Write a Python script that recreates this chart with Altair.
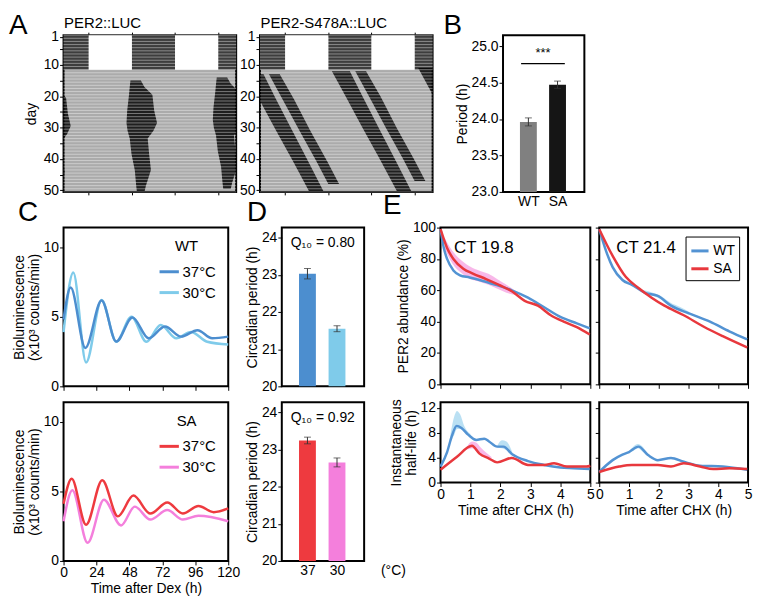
import altair as alt
import pandas as pd

FONT = "Liberation Sans"

# ---------------- A: actograms (double plotted, 48 h per row) ----------------
ld_end_day = 11.5
light_on = [7, 31]
light_off = [19, 43]
dark_on = [0, 19, 43]
dark_off = [7, 31, 48]
act_xticks = [7, 19, 31, 43]
act_yticks = [1, 5, 10, 15, 20, 25, 30, 35, 40, 45, 50]
row_edges = [d + 0.5 for d in range(0, 51)]

# activity bands in DD: day, onset hour, offset hour (continuous time of day)
wt_day = [15, 17, 19.5, 24.5, 28.5, 31, 33.5, 38.5, 43.5, 48.5, 50.5]
wt_on = [18.6, 18.4, 18.2, 17.7, 17.5, 17.8, 18.4, 18.9, 19.8, 20.2, 20.4]
wt_off = [21.5, 22.5, 24.7, 25.2, 26.0, 25.0, 23.4, 23.8, 24.3, 22.9, 22.5]

sa_a_day = [12, 20, 30, 40, 50.5]
sa_a_on = [20.0, 23.8, 28.5, 33.3, 38.2]
sa_a_off = [25.0, 28.5, 33.0, 37.5, 42.2]
sa_b_day = [12, 20, 30, 40, 47]
sa_b_on = [26.5, 30.3, 35.0, 39.8, 43.0]
sa_b_off = [29.5, 33.5, 38.0, 42.8, 46.0]

# ---------------- B ----------------
b_labels = ["WT", "SA"]
b_period = [23.96, 24.47]
b_err = [0.055, 0.05]
b_colors = ["#808080", "#151515"]
b_yticks = [23.0, 23.5, 24.0, 24.5, 25.0]
sig_x1, sig_x2, sig_y, sig_text_y = [0.75], [2.25], [24.76], [24.9]

# ---------------- C ----------------
wt37_t = [0, 5.2, 15.9, 27.7, 38.4, 50.2, 62, 73.9, 85.7, 97.6, 108.3, 120]
wt37_y = [4.8, 7.1, 2.76, 6.16, 3.22, 4.94, 3.45, 4.3, 3.57, 4.03, 3.45, 3.57]
wt30_t = [0, 7.1, 16.4, 27.7, 38.4, 49.5, 60.4, 70.8, 82.2, 92.9, 104.7, 120]
wt30_y = [3.9, 8.17, 1.72, 6.2, 3.2, 5.0, 3.2, 4.4, 3.45, 3.9, 3.2, 3.0]
sa37_t = [0, 5.9, 16.4, 28.2, 39.6, 50.9, 63.2, 75.6, 86.9, 98.3, 109.4, 120]
sa37_y = [4.1, 5.9, 2.6, 5.8, 3.2, 4.7, 3.4, 4.2, 3.4, 3.95, 3.5, 3.77]
sa30_t = [0, 6.4, 17.5, 29.4, 41.9, 51.9, 63.2, 75.6, 86.9, 98.3, 120]
sa30_y = [2.85, 5.07, 1.3, 4.4, 2.55, 3.9, 2.97, 3.65, 2.97, 3.24, 2.85]
c_xticks = [0, 24, 48, 72, 96, 120]

# ---------------- D ----------------
d_labels = ["37", "30"]
d_wt = [23.03, 21.55]
d_wt_err = [0.14, 0.08]
d_sa = [23.24, 22.65]
d_sa_err = [0.09, 0.12]
q10 = ["0.80", "0.92"]

# ---------------- E ----------------
e1_wt_t = [0, 0.11, 0.22, 0.43, 0.65, 0.97, 1.3, 1.84, 2.38, 2.92, 3.46, 4.0, 4.55, 4.98]
e1_wt_y = [99, 87, 80, 72.7, 69.6, 68.2, 66.6, 63.5, 60, 55.3, 49.2, 43, 38.9, 35.8]
e1_sa_t = [0, 0.22, 0.43, 0.76, 1.08, 1.52, 1.95, 2.38, 2.81, 3.25, 3.68, 4.11, 4.55, 4.98]
e1_sa_y = [99, 87, 80, 73.8, 70.7, 67.2, 63.5, 59.4, 53.3, 50.2, 44.1, 40, 36.5, 31.8]
e2_wt_t = [0, 0.23, 0.45, 0.78, 1.1, 1.54, 1.97, 2.41, 3.06, 3.72, 4.37, 4.97]
e2_wt_y = [99, 85, 74.8, 66.6, 63.5, 58.4, 56.4, 50.2, 45, 40, 33.8, 28.7]
e2_sa_t = [0, 0.45, 0.89, 1.32, 1.76, 2.19, 2.84, 3.5, 4.15, 4.97]
e2_sa_y = [99, 82, 68.6, 61.5, 55.3, 50.2, 44.1, 36.9, 30.7, 23.5]
e3_wt_t = [0, 0.22, 0.38, 0.54, 0.7, 0.92, 1.19, 1.46, 1.62, 1.89, 2.1, 2.38, 2.92, 3.46, 4.0, 4.44, 4.98]
e3_wt_y = [2.57, 4.9, 7.5, 9.1, 8.75, 7.7, 6.85, 7.05, 6.6, 5.77, 5.77, 4.6, 3.45, 2.83, 2.42, 2.3, 2.16]
e3_sa_t = [0, 0.54, 1.05, 1.3, 1.62, 1.89, 2.38, 2.92, 3.46, 3.79, 4.22, 4.87, 5.0]
e3_sa_y = [2.05, 4.1, 5.9, 4.64, 3.86, 3.24, 3.96, 2.83, 2.83, 3.09, 2.57, 2.57, 2.7]
e4_wt_t = [0, 0.45, 0.78, 1.0, 1.32, 1.65, 1.97, 2.41, 2.84, 3.39, 4.15, 4.97]
e4_wt_y = [1.7, 3.6, 4.48, 4.9, 5.77, 4.37, 3.6, 3.96, 3.34, 2.72, 2.57, 2.05]
e4_sa_t = [0, 0.67, 1.1, 1.97, 2.41, 2.84, 3.39, 3.83, 4.37, 4.97]
e4_sa_y = [1.7, 2.57, 2.83, 2.83, 2.57, 3.09, 2.57, 2.16, 2.3, 2.16]

e1_sa_band_t = [0.15, 0.4, 0.7, 1.0, 1.3, 1.6, 1.9, 2.2, 2.5]
e1_sa_band_lo = [86, 77, 71, 67, 65.5, 63.5, 61, 58.5, 57]
e1_sa_band_hi = [93, 85, 79, 75, 72.5, 70.5, 67, 63.5, 59.5]
e2_wt_band_t = [1.5, 1.8, 2.1, 2.4, 2.7, 3.0]
e2_wt_band_lo = [57.6, 56.5, 54.0, 49.8, 47.5, 44.3]
e2_wt_band_hi = [60.0, 58.5, 56.0, 52.0, 49.5, 46.5]
e3_wt_band_t = [0.3, 0.45, 0.55, 0.65, 0.8, 1.0]
e3_wt_band_lo = [6.2, 7.6, 8.6, 8.6, 8.2, 7.4]
e3_wt_band_hi = [6.8, 10.5, 11.5, 11.0, 9.0, 7.8]
e3_wt_band2_t = [1.9, 2.05, 2.2, 2.4]
e3_wt_band2_lo = [5.6, 5.5, 5.2, 4.5]
e3_wt_band2_hi = [6.0, 6.8, 6.6, 4.8]
e3_sa_band_t = [0.9, 1.05, 1.2, 1.35, 1.5, 1.7]
e3_sa_band_lo = [5.3, 5.5, 5.0, 4.5, 4.1, 3.7]
e3_sa_band_hi = [5.9, 6.6, 6.4, 5.6, 4.9, 4.1]
e4_wt_band_t = [1.0, 1.15, 1.3, 1.45, 1.6]
e4_wt_band_lo = [4.8, 5.1, 5.5, 5.0, 4.4]
e4_wt_band_hi = [5.0, 5.8, 6.2, 5.8, 4.7]

BLUE, LBLUE, RED, PINK = "#4c8ecf", "#7fcbea", "#ee3a3f", "#f47fdc"
E_BLUE, E_RED = "#5393d3", "#e8383d"
BAND_BLUE, BAND_PINK = "#a9d8f0", "#f6a6e4"

ROW1_H = 158
C_W, C_H = 166, 160
D_W = 83
E_W1, E_W2, E_H1, E_H2 = 151, 150, 158, 81


def AX(**kw):
    # explicit tick values are all kept (no decimation by tick count)
    return alt.Axis(labelOverlap=False, labelFlush=False, tickCount=60, **kw)


def letter(txt, dx, dy=0, offset=1):
    return alt.TitleParams(txt, anchor="start", frame="group", dx=dx, dy=dy,
                           fontSize=28, fontWeight="normal", font=FONT, offset=offset)


def spacer(w, h):
    return alt.Chart(pd.DataFrame({"a": [0]})).mark_point(opacity=0).encode(
        x=alt.X("a:Q", axis=None), y=alt.Y("a:Q", axis=None)
    ).properties(width=w, height=h, view=alt.ViewBackground(stroke="transparent"))


# ---------------- actogram builder ----------------
def band_frame(bands):
    rows = []
    for name, days, ons, offs in bands:
        for k in (-1, 0, 1):
            for d, a, b in zip(days, ons, offs):
                rows.append({"day": d + k, "on": a - 24 * k, "off": b - 24 * k, "grp": f"{name}{k}"})
    return pd.DataFrame(rows)


def actogram(bands, head, ytitle, let):
    xs = alt.Scale(domain=[0, 48], nice=False, zero=False)
    ys = alt.Scale(domain=[0.5, 50.5], reverse=True, nice=False, zero=False)
    dark = pd.DataFrame({"x0": dark_on, "x1": dark_off, "y0": [0.5] * 3, "y1": [ld_end_day] * 3})
    light = pd.DataFrame({"x0": light_on, "x1": light_off, "y0": [0.5] * 2, "y1": [ld_end_day] * 2})
    yaxis = AX(values=act_yticks, format="d",
               labelExpr="(datum.value == 1 || datum.value % 10 == 0) ? datum.label : ''",
               title=ytitle, titlePadding=5)
    dark_l = alt.Chart(dark).mark_rect(color="#3d3d3d").encode(
        x=alt.X("x0:Q", scale=xs, axis=AX(orient="top", values=act_xticks, labels=False, title=head,
                                           titleAnchor="start", titlePadding=1, tickSize=3,
                                           titleFontSize=15)),
        x2="x1:Q",
        y=alt.Y("y0:Q", scale=ys, axis=yaxis),
        y2="y1:Q",
    )
    light_l = alt.Chart(light).mark_rect(color="white").encode(
        x=alt.X("x0:Q", scale=xs, axis=AX(orient="bottom", values=act_xticks, labels=False, title=None, tickSize=3)),
        x2="x1:Q",
        y=alt.Y("y0:Q", scale=ys),
        y2="y1:Q",
    )
    band_l = alt.Chart(band_frame(bands)).mark_area(orient="horizontal", color="black", opacity=0.82, clip=True).encode(
        y=alt.Y("day:Q", scale=ys),
        x=alt.X("on:Q", scale=xs, axis=None),
        x2="off:Q",
        detail="grp:N",
    )
    row_l = alt.Chart(pd.DataFrame({"b": row_edges})).mark_rule(color="white", strokeWidth=0.8, opacity=0.5).encode(
        y=alt.Y("b:Q", scale=ys)
    )
    ch = alt.layer(dark_l, light_l, band_l, row_l).resolve_axis(x="independent").properties(
        width=174, height=ROW1_H, view=alt.ViewBackground(fill="#ababab", stroke="black", strokeWidth=2))
    if let:
        ch = ch.properties(title=letter(let, -55, 26, 2))
    return ch


A1 = actogram([("w", wt_day, wt_on, wt_off)], "PER2::LUC", "day", "A")
A2 = actogram([("a", sa_a_day, sa_a_on, sa_a_off), ("b", sa_b_day, sa_b_on, sa_b_off)],
              "PER2-S478A::LUC", None, None)

# ---------------- bar builders (B, D) ----------------
bar_x = alt.Scale(domain=[0.3, 2.75], nice=False, zero=False)


def bar_layers(labels, vals, errs, colors, ydom, yticks, yfmt, ytitle, show_x, xtitle=None):
    df = pd.DataFrame({"pos": [1, 2], "v": vals, "lo": [v - e for v, e in zip(vals, errs)],
                       "hi": [v + e for v, e in zip(vals, errs)], "col": colors, "base": [ydom[0]] * 2})
    ys = alt.Scale(domain=ydom, nice=False, zero=False)
    lab_expr = f"datum.value == 1 ? '{labels[0]}' : '{labels[1]}'"
    if xtitle:
        xaxis = AX(values=[1, 2], labelExpr=lab_expr, labels=show_x, ticks=False, labelPadding=3,
                   title=xtitle, titleX=112, titleY=3, titleBaseline="top", titleAlign="center")
    else:
        xaxis = AX(values=[1, 2], labelExpr=lab_expr, labels=show_x, ticks=False, labelPadding=3,
                   title=None)
    yaxis = AX(values=yticks, format=yfmt, title=ytitle)
    bars = alt.Chart(df).mark_bar(size=17).encode(
        x=alt.X("pos:Q", scale=bar_x, axis=xaxis),
        y=alt.Y("v:Q", scale=ys, axis=yaxis),
        y2="base:Q",
        color=alt.Color("col:N", scale=None),
    )
    err = alt.Chart(df).mark_rule(color="#333333", strokeWidth=1).encode(
        x=alt.X("pos:Q", axis=xaxis), y=alt.Y("lo:Q", axis=yaxis), y2="hi:Q")
    cap_lo = alt.Chart(df).mark_tick(orient="horizontal", size=7, thickness=1, color="#333333").encode(
        x=alt.X("pos:Q", axis=xaxis), y=alt.Y("lo:Q", axis=yaxis))
    cap_hi = alt.Chart(df).mark_tick(orient="horizontal", size=7, thickness=1, color="#333333").encode(
        x=alt.X("pos:Q", axis=xaxis), y=alt.Y("hi:Q", axis=yaxis))
    return [bars, err, cap_lo, cap_hi], xaxis, yaxis


b_layers, b_xaxis, b_yaxis = bar_layers(b_labels, b_period, b_err, b_colors, [23.0, 25.15], b_yticks, ".1f",
                                        "Period (h)", True)
sig = pd.DataFrame({"x1": sig_x1, "x2": sig_x2, "y": sig_y, "ty": sig_text_y, "tx": [1.5], "txt": ["***"]})
B = alt.layer(
    *b_layers,
    alt.Chart(sig).mark_rule(color="black", strokeWidth=1.2).encode(
        x=alt.X("x1:Q", axis=b_xaxis), x2="x2:Q", y=alt.Y("y:Q", axis=b_yaxis)),
    alt.Chart(sig).mark_text(fontSize=13, font=FONT, baseline="middle").encode(
        x=alt.X("tx:Q", axis=b_xaxis), y=alt.Y("ty:Q", axis=b_yaxis), text="txt:N"),
).properties(width=82, height=ROW1_H, title=letter("B", -60, 7, 2))


def d_panel(vals, errs, colors, qtxt, show_x, let):
    layers, xaxis, yaxis = bar_layers(d_labels, vals, errs, colors, [20, 24.27], [20, 21, 22, 23, 24], "d",
                                      "Circadian period (h)", show_x, "(°C)" if show_x else None)
    qdf = pd.DataFrame({"x": [1.52], "y": [23.85], "txt": [f"Q\u2081\u2080 = {qtxt}"]})
    qt = alt.Chart(qdf).mark_text(fontSize=14, font=FONT, baseline="middle").encode(
        x=alt.X("x:Q", axis=xaxis), y=alt.Y("y:Q", axis=yaxis), text="txt:N")
    ch = alt.layer(*layers, qt).properties(width=D_W, height=C_H)
    if let:
        ch = ch.properties(title=letter(let, -35))
    return ch


D1 = d_panel(d_wt, d_wt_err, [BLUE, LBLUE], q10[0], False, "D")
D2 = d_panel(d_sa, d_sa_err, [RED, PINK], q10[1], True, None)


# ---------------- C ----------------
def c_panel(series, colors, head, show_x, let):
    rows = []
    for cond, ts, vs in series:
        for t, v in zip(ts, vs):
            rows.append({"cond": cond, "t": t, "v": v})
    df = pd.DataFrame(rows)
    ch = alt.Chart(df).mark_line(strokeWidth=2.5, interpolate="monotone").encode(
        x=alt.X("t:Q", scale=alt.Scale(domain=[0, 120], nice=False),
                axis=AX(values=c_xticks, format="d", labels=show_x,
                        title="Time after Dex (h)" if show_x else None)),
        y=alt.Y("v:Q", scale=alt.Scale(domain=[0, 11.4], nice=False),
                axis=AX(values=[0, 5, 10], format="d", title=["Bioluminescence", "(x10\u00b3 counts/min)"])),
        color=alt.Color("cond:N", scale=alt.Scale(domain=["37°C", "30°C"], range=colors),
                        legend=alt.Legend(title=head, orient="top-right", offset=12, symbolType="stroke",
                                          symbolStrokeWidth=3, symbolSize=380, labelFontSize=15,
                                          titleFontSize=15, titleAnchor="middle", titlePadding=6,
                                          rowPadding=1, labelOffset=2)),
    ).properties(width=C_W, height=C_H)
    if let:
        ch = ch.properties(title=letter(let, -46))
    return ch


C1 = c_panel([("30°C", wt30_t, wt30_y), ("37°C", wt37_t, wt37_y)], [BLUE, LBLUE], "WT", False, "C")
C2 = c_panel([("30°C", sa30_t, sa30_y), ("37°C", sa37_t, sa37_y)], [RED, PINK], "SA", True, None)


# ---------------- E ----------------
def e_panel(lines, bands, ydom, yticks, ytitle, show_ylabels, show_x, w, h, ct=None, legend=False, let=None):
    rows = []
    for g, ts, vs in lines:
        for t, v in zip(ts, vs):
            rows.append({"g": g, "t": t, "v": v})
    df = pd.DataFrame(rows)
    brows = []
    for seg, col, ts, lo, hi in bands:
        for t, a, b in zip(ts, lo, hi):
            brows.append({"seg": seg, "col": col, "t": t, "lo": a, "hi": b})
    bdf = pd.DataFrame(brows)
    xs = alt.Scale(domain=[0, 5], nice=False)
    ys = alt.Scale(domain=ydom, nice=False)
    xaxis = AX(values=[0, 1, 2, 3, 4, 5], format="d", labels=show_x,
               title="Time after CHX (h)" if show_x else None)
    yaxis = AX(values=yticks, format="d", labels=show_ylabels, title=ytitle)
    layers = [alt.Chart(bdf).mark_area(opacity=0.8, interpolate="monotone").encode(
        x=alt.X("t:Q", scale=xs, axis=xaxis), y=alt.Y("lo:Q", scale=ys, axis=yaxis), y2="hi:Q",
        fill=alt.Fill("col:N", scale=None), detail="seg:N")]
    if legend:
        col = alt.Color("g:N", scale=alt.Scale(domain=["WT", "SA"], range=[E_BLUE, E_RED]),
                        legend=alt.Legend(title=None, orient="top-right", offset=9, symbolType="stroke",
                                          symbolStrokeWidth=3, symbolSize=300, labelFontSize=14,
                                          strokeColor="black", padding=4, rowPadding=0, labelOffset=3))
    else:
        col = alt.Color("g:N", scale=alt.Scale(domain=["WT", "SA"], range=[E_BLUE, E_RED]), legend=None)
    layers.append(alt.Chart(df).mark_line(strokeWidth=2.5, interpolate="monotone").encode(
        x=alt.X("t:Q", scale=xs, axis=xaxis), y=alt.Y("v:Q", scale=ys, axis=yaxis), color=col,
        order=alt.Order("t:Q")))
    if ct:
        cdf = pd.DataFrame({"t": [ct[0]], "v": [ct[1]], "txt": [ct[2]]})
        layers.append(alt.Chart(cdf).mark_text(fontSize=17, font=FONT, align="left", baseline="middle").encode(
            x=alt.X("t:Q", scale=xs, axis=xaxis), y=alt.Y("v:Q", scale=ys, axis=yaxis), text="txt:N"))
    ch = alt.layer(*layers).properties(width=w, height=h)
    if let:
        ch = ch.properties(title=letter(let, -58))
    return ch


E1 = e_panel([("WT", e1_wt_t, e1_wt_y), ("SA", e1_sa_t, e1_sa_y)],
             [("s1", BAND_PINK, e1_sa_band_t, e1_sa_band_lo, e1_sa_band_hi)],
             [0, 100], [0, 20, 40, 60, 80, 100], "PER2 abundance (%)", True, False, E_W1, E_H1,
             ct=(0.45, 87, "CT 19.8"), let="E")
E2 = e_panel([("WT", e2_wt_t, e2_wt_y), ("SA", e2_sa_t, e2_sa_y)],
             [("w1", BAND_BLUE, e2_wt_band_t, e2_wt_band_lo, e2_wt_band_hi)],
             [0, 100], [0, 20, 40, 60, 80, 100], None, False, False, E_W2, E_H1,
             ct=(0.57, 87, "CT 21.4"), legend=True)
E3 = e_panel([("WT", e3_wt_t, e3_wt_y), ("SA", e3_sa_t, e3_sa_y)],
             [("w1", BAND_BLUE, e3_wt_band_t, e3_wt_band_lo, e3_wt_band_hi),
              ("w2", BAND_BLUE, e3_wt_band2_t, e3_wt_band2_lo, e3_wt_band2_hi),
              ("s1", BAND_PINK, e3_sa_band_t, e3_sa_band_lo, e3_sa_band_hi)],
             [0, 12.9], [0, 4, 8, 12], ["Instantaneous", "half-life (h)"], True, True, E_W1, E_H2)
E4 = e_panel([("WT", e4_wt_t, e4_wt_y), ("SA", e4_sa_t, e4_sa_y)],
             [("w1", BAND_BLUE, e4_wt_band_t, e4_wt_band_lo, e4_wt_band_hi)],
             [0, 12.9], [0, 4, 8, 12], None, False, True, E_W2, E_H2)


def flush_row(*charts):
    return alt.hconcat(*charts, spacing=0, bounds="flush").resolve_scale(color="independent")


row1 = flush_row(A1, spacer(24, ROW1_H), A2, spacer(71, ROW1_H), B)
row2a = flush_row(C1, spacer(54, C_H), D1, spacer(77, C_H), E1, spacer(9, E_H1), E2)
row2b = flush_row(C2, spacer(54, C_H), D2, spacer(77, C_H), E3, spacer(9, E_H2), E4)
rows2 = alt.vconcat(row2a, row2b, spacing=3).resolve_scale(color="independent")

chart = alt.vconcat(row1, rows2, spacing=-19).resolve_scale(
    color="independent"
).properties(padding={"left": 0, "top": 0, "right": 0, "bottom": 0}).configure(
    font=FONT
).configure_axis(
    labelFont=FONT, titleFont=FONT, labelFontSize=14, titleFontSize=14, labelColor="black",
    titleColor="black", tickColor="black", domain=False, grid=False, tickSize=4, labelPadding=1,
    titleFontWeight="normal", titlePadding=2, titleLineHeight=15
).configure_view(
    stroke="black", strokeWidth=2
).configure_legend(
    labelFont=FONT, titleFont=FONT, titleFontWeight="normal", labelColor="black", titleColor="black"
).configure_title(font=FONT, fontWeight="normal", color="black")

chart.save("out.html", embed_options={"renderer": "svg", "actions": False})
